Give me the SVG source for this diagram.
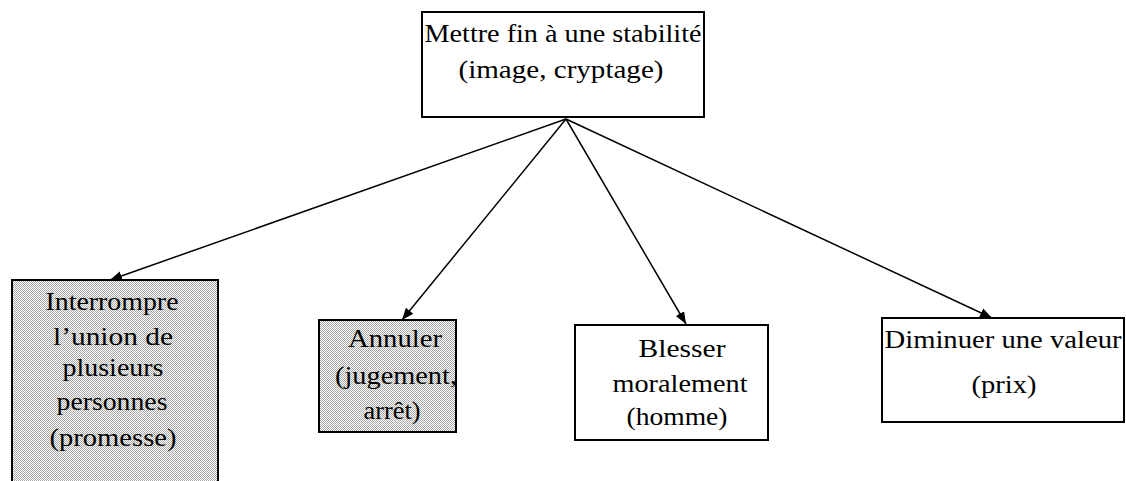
<svg xmlns="http://www.w3.org/2000/svg" width="1126" height="481" viewBox="0 0 1126 481">
<style>
.box{stroke:#000;stroke-width:2;fill:#fff}
.gray{fill:url(#dither)}
text{font-family:"Liberation Serif","Times New Roman",serif;font-size:26px;fill:#000;text-anchor:middle}
.conn line{stroke:#000;stroke-width:1.5;marker-end:url(#ah)}
</style>
<defs>
<pattern id="dither" width="2" height="2" patternUnits="userSpaceOnUse">
<rect width="2" height="2" fill="#fff"/>
<rect width="1" height="1" fill="#a8a8a8"/>
<rect x="1" y="1" width="1" height="1" fill="#a8a8a8"/>
</pattern>
<marker id="ah" viewBox="0 0 10 10" refX="10" refY="5" markerWidth="12" markerHeight="12" orient="auto" markerUnits="userSpaceOnUse">
<path d="M0,1 L10,5 L0,9 z" fill="#000"/>
</marker>
</defs>
<g class="conn">
<line x1="566" y1="119" x2="110" y2="280"/>
<line x1="566" y1="119" x2="402" y2="320"/>
<line x1="566" y1="119" x2="686" y2="324"/>
<line x1="566" y1="119" x2="992" y2="318"/>
</g>
<g id="top">
<rect class="box" x="422" y="12" width="282" height="105"/>
<text x="563" y="42" textLength="277" lengthAdjust="spacingAndGlyphs">Mettre fin à une stabilité</text>
<text x="561" y="78" textLength="205" lengthAdjust="spacingAndGlyphs">(image, cryptage)</text>
</g>
<g id="n1">
<rect class="box gray" x="12" y="280" width="206" height="210"/>
<text x="112" y="310" textLength="133" lengthAdjust="spacingAndGlyphs">Interrompre</text>
<text x="113" y="345" textLength="120" lengthAdjust="spacingAndGlyphs">l’union de</text>
<text x="113" y="376" textLength="101" lengthAdjust="spacingAndGlyphs">plusieurs</text>
<text x="112" y="410" textLength="111" lengthAdjust="spacingAndGlyphs">personnes</text>
<text x="113" y="446" textLength="127" lengthAdjust="spacingAndGlyphs">(promesse)</text>
</g>
<g id="n2">
<rect class="box gray" x="319" y="320" width="137" height="112"/>
<text x="395" y="347" textLength="94" lengthAdjust="spacingAndGlyphs">Annuler</text>
<text x="396" y="384" textLength="122" lengthAdjust="spacingAndGlyphs">(jugement,</text>
<text x="392" y="419" textLength="57" lengthAdjust="spacingAndGlyphs">arrêt)</text>
</g>
<g id="n3">
<rect class="box" x="575" y="325" width="193" height="115"/>
<text x="682" y="357" textLength="87" lengthAdjust="spacingAndGlyphs">Blesser</text>
<text x="680" y="392" textLength="135" lengthAdjust="spacingAndGlyphs">moralement</text>
<text x="677" y="425" textLength="101" lengthAdjust="spacingAndGlyphs">(homme)</text>
</g>
<g id="n4">
<rect class="box" x="882" y="318" width="242" height="104"/>
<text x="1003" y="348" textLength="237" lengthAdjust="spacingAndGlyphs">Diminuer une valeur</text>
<text x="1004" y="393" textLength="65" lengthAdjust="spacingAndGlyphs">(prix)</text>
</g>
</svg>
